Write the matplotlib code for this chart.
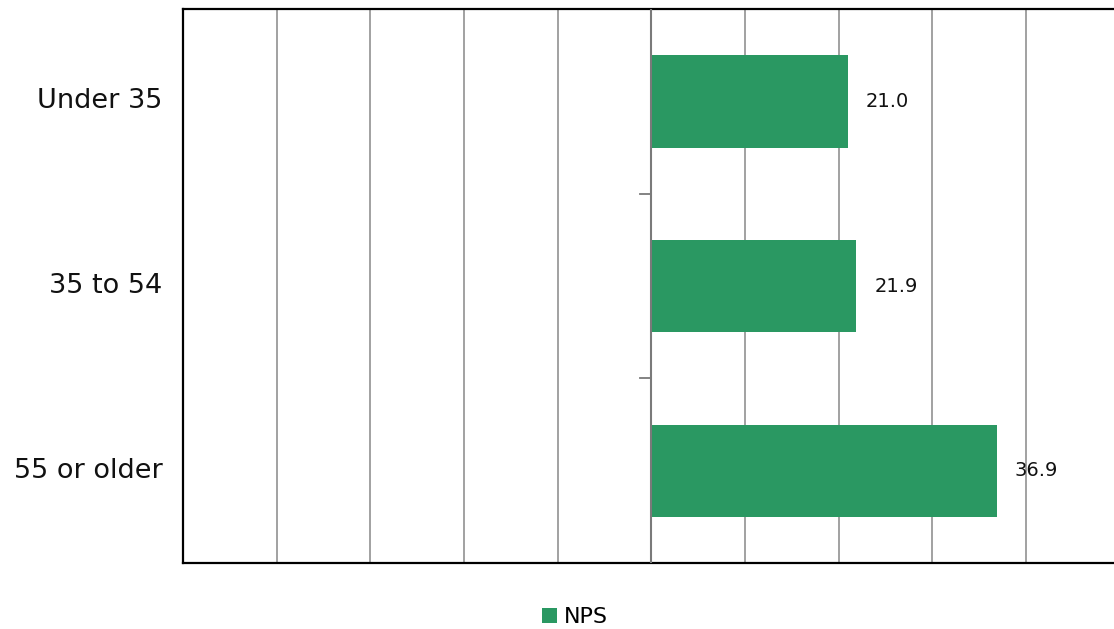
import matplotlib
matplotlib.use("Agg")
import matplotlib.pyplot as plt
import numpy as np

categories = ["Under 35", "35 to 54", "55 or older"]
nps = [21.0, 21.9, 36.9]
bar_color = "#2a9862"

fig = plt.figure(figsize=(11.14, 6.29), dpi=100)
ax = fig.add_axes([183 / 1114, 1 - 563 / 629, (1119.5 - 183) / 1114, (563 - 9) / 629])

y = np.arange(len(categories))
bars = ax.barh(y, nps, height=0.5, color=bar_color, label="NPS", zorder=3)
ax.set_ylim(len(categories) - 0.5, -0.5)
ax.set_xlim(-50, 50)
ax.set_xticks(np.arange(-50, 51, 10))
ax.tick_params(axis="x", length=0, labelbottom=False)
ax.grid(axis="x", color="#9a9a9a", linewidth=1.3, zorder=0)

# category labels as text, separator ticks at the zero line
ax.set_yticks([])
for i, c in enumerate(categories):
    ax.text(-0.022, i, c, transform=ax.get_yaxis_transform(), ha="right", va="center",
            fontsize=19.5, color="#111111")
ax.axvline(0, color="#7a7a7a", linewidth=1.5, zorder=4)
for b in [0.5, 1.5]:
    ax.plot([-1.2, 0], [b, b], color="#7a7a7a", linewidth=1.3, zorder=4, clip_on=False)

for i, v in enumerate(nps):
    ax.annotate(f"{v:.1f}", (v, i), xytext=(13, 0), textcoords="offset points",
                ha="left", va="center", fontsize=14, color="#111111")

for s in ["left", "top", "bottom"]:
    ax.spines[s].set_color("black")
    ax.spines[s].set_linewidth(1.6)
ax.spines["right"].set_visible(False)

fig.legend(handles=[bars], labels=["NPS"], loc="center", bbox_to_anchor=(575 / 1114, 1 - 617 / 629),
           frameon=False, fontsize=16, handlelength=0.65, handleheight=0.65, handletextpad=0.3)

fig.savefig("out.png", dpi=100)
